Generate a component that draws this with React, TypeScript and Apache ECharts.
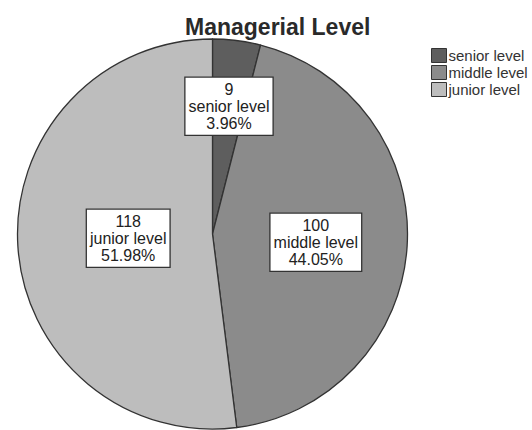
import React, { useEffect, useRef } from "react";
import * as echarts from "echarts";

const titleText = "Managerial Level";
const categories = ["senior level", "middle level", "junior level"];
const counts = [9, 100, 118];
const percents = ["3.96%", "44.05%", "51.98%"];
const colors = ["#5e5e5e", "#8b8b8b", "#bdbdbd"];
const labelShift = [
  [4, -28],
  [3, 2],
  [16, -2],
];

export default function App() {
  const ref = useRef<HTMLDivElement>(null);
  useEffect(() => {
    if (!ref.current) return;
    const chart = echarts.init(ref.current, null, { renderer: "svg" });
    chart.setOption({
      animation: false,
      backgroundColor: "#ffffff",
      title: {
        text: titleText,
        left: 180,
        top: 10,
        textStyle: {
          fontFamily: "Liberation Sans, Arial, sans-serif",
          fontSize: 23,
          fontWeight: "bold",
          color: "#2a2a2a",
        },
      },
      legend: {
        orient: "vertical",
        left: 426,
        top: 43,
        itemWidth: 15,
        itemHeight: 14,
        itemGap: 2,
        icon: "rect",
        data: categories,
        textStyle: {
          fontFamily: "Liberation Sans, Arial, sans-serif",
          fontSize: 15,
          lineHeight: 14,
          color: "#333",
          padding: [0, 0, 0, -3],
        },
        itemStyle: { borderColor: "#333", borderWidth: 1 },
      },
      series: [
        {
          type: "pie",
          center: [212.5, 234],
          radius: 195,
          startAngle: 90,
          clockwise: true,
          data: categories.map((c, i) => ({
            name: c,
            value: counts[i],
            itemStyle: { color: colors[i] },
          })),
          itemStyle: { borderColor: "#333", borderWidth: 1.3 },
          label: {
            show: true,
            position: "inside",
            formatter: (p: any) =>
              `${counts[p.dataIndex]}\n${p.name}\n${percents[p.dataIndex]}`,
            fontFamily: "Liberation Sans, Arial, sans-serif",
            fontSize: 16,
            lineHeight: 17,
            color: "#222",
            align: "center",
            backgroundColor: "#ffffff",
            borderColor: "#333",
            borderWidth: 1.3,
            padding: [3, 3, 3, 3],
          },
          labelLayout: (p: any) => ({
            dx: labelShift[p.dataIndex][0],
            dy: labelShift[p.dataIndex][1],
          }),
          labelLine: { show: false },
          emphasis: { disabled: true },
        },
      ],
    });
    return () => chart.dispose();
  }, []);
  return (
    <div
      ref={ref}
      style={{ position: "absolute", left: 0, top: 0, width: 532, height: 430 }}
    />
  );
}
